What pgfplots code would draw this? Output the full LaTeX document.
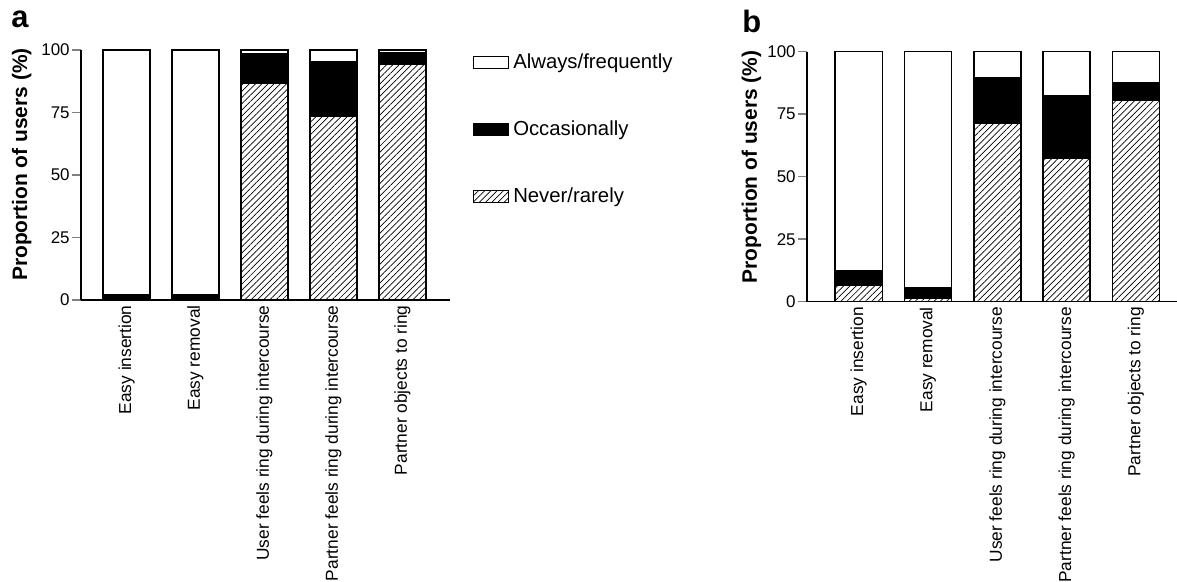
\documentclass[border=0pt]{standalone}
\usepackage{fontspec}
\setmainfont{Liberation Sans}
\usepackage{pgfplots}
\usepackage{pgfplotstable}
\pgfplotsset{compat=1.18}
\usetikzlibrary{patterns.meta}

% stacked shares (%) per item: never/rarely, occasionally, always/frequently
\pgfplotstableread{
x never occ always
0 0    2  98
1 0    2  98
2 86.6 11.8 1.6
3 73.3 22 4.7
4 94.4 4.3 1.3
}\dataA
\pgfplotstableread{
x never occ always
0 6.5  6  87.5
1 1.5  4  94.5
2 71.5 18 10.5
3 57.5 25 17.5
4 80.5 7  12.5
}\dataB

\pgfplotsset{
  panel/.style={
    scale only axis, height=125bp, ymin=0, ymax=100,
    ybar stacked, bar width=0.68,
    axis x line*=bottom, axis y line*=left,
    axis line style={line width=0.8bp},
    xtick={0,1,2,3,4},
    xticklabels={Easy insertion,Easy removal,User feels ring during intercourse,Partner feels ring during intercourse,Partner objects to ring},
    xtick style={draw=none},
    ytick={0,25,50,75,100}, yticklabels={0,25,50,75,100},
    ytick style={line width=0.8bp}, tick align=outside, major tick length=4.5bp,
    xticklabel shift=-5.3bp,
    xticklabel style={rotate=90, anchor=east, font=\fontsize{8.7}{10}\selectfont},
    yticklabel style={font=\fontsize{8.5}{10}\selectfont, inner sep=1bp},
    ylabel={Proportion of users (\%)},
    ylabel style={font=\bfseries\fontsize{10.5}{12}\selectfont, anchor=center},
  },
  seg/.style={draw=black, line width=0.75bp,
    legend image code/.code={\draw[##1, line width=0.6bp] (0bp,-3bp) rectangle (17.5bp,3bp);}},
  nev/.style={seg, pattern={Lines[angle=45,distance=2.2bp,line width=0.35bp]}, pattern color=black},
  occ/.style={seg, fill=black},
  alw/.style={seg, fill=white},
}

\begin{document}
\begin{tikzpicture}
\useasboundingbox (0,0) rectangle (588.5bp,291bp);

\node[anchor=base west, inner sep=0, font=\bfseries\fontsize{15.5}{16}\selectfont] at (5.5bp,277bp) {a};
\node[anchor=base west, inner sep=0, font=\bfseries\fontsize{15.5}{16}\selectfont] at (371bp,274.5bp) {b};

\begin{axis}[panel, at={(40.5bp,141bp)}, width=184.5bp, xmin=-0.66, xmax=4.69,
    ylabel style={at={(axis description cs:-0.161,0.542)}},
    reverse legend,
    legend cell align=left,
    legend style={at={(axis description cs:1.0615,1.003)}, anchor=north west,
      draw=none, fill=none, inner sep=0pt, row sep=20.6bp,
      font=\fontsize{10.2}{12}\selectfont}]
  \addplot[nev] table[x=x, y=never] {\dataA};
  \addlegendentry{Never/rarely}
  \addplot[occ] table[x=x, y=occ] {\dataA};
  \addlegendentry{Occasionally}
  \addplot[alw] table[x=x, y=always] {\dataA};
  \addlegendentry{Always/frequently}
\end{axis}

\begin{axis}[panel, at={(403.5bp,140.15bp)}, width=185bp, xmin=-0.746, xmax=4.593,
    ylabel style={at={(axis description cs:-0.15,0.539)}}]
  \addplot[nev] table[x=x, y=never] {\dataB};
  \addplot[occ] table[x=x, y=occ] {\dataB};
  \addplot[alw] table[x=x, y=always] {\dataB};
\end{axis}
\end{tikzpicture}
\end{document}
